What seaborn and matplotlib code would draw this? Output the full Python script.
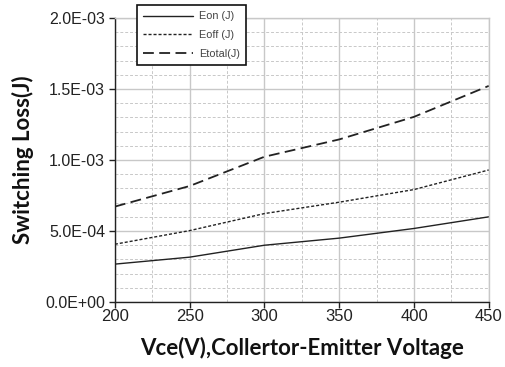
import matplotlib
matplotlib.use("Agg")
import matplotlib.pyplot as plt
import seaborn as sns
import pandas as pd
from matplotlib.ticker import MultipleLocator, FuncFormatter

vce = [200, 250, 300, 350, 400, 450]
eon = [0.267e-3, 0.316e-3, 0.400e-3, 0.450e-3, 0.518e-3, 0.600e-3]
eoff = [0.407e-3, 0.503e-3, 0.623e-3, 0.703e-3, 0.792e-3, 0.930e-3]
etotal = [0.672e-3, 0.817e-3, 1.023e-3, 1.145e-3, 1.304e-3, 1.522e-3]
series_names = ["Eon (J)", "Eoff (J)", "Etotal(J)"]

sns.set_style("white")
plt.rcParams['font.family'] = ['Liberation Sans', 'DejaVu Sans']

fig = plt.figure(figsize=(5.06, 3.67), dpi=100)
ax = fig.add_axes([0.227, 0.177, 0.739, 0.774])

styles = [dict(linestyle='-', linewidth=1.0),
          dict(linestyle=(0, (2.2, 1.4)), linewidth=1.0),
          dict(linestyle=(0, (6, 3)), linewidth=1.3)]
for name, vals, st in zip(series_names, [eon, eoff, etotal], styles):
    df = pd.DataFrame({"Vce": vce, "E": vals})
    sns.lineplot(data=df, x="Vce", y="E", ax=ax, color='#222222', label=name, **st)


def sci(v, p):
    if v == 0:
        return "0.0E+00"
    e = int(f"{v:e}".split('e')[1])
    return "%.1fE%+03d" % (v / 10**e, e)


ax.set_xlim(200, 450)
ax.set_ylim(0, 2.0e-3)
ax.xaxis.set_major_locator(MultipleLocator(50))
ax.xaxis.set_minor_locator(MultipleLocator(25))
ax.yaxis.set_major_locator(MultipleLocator(5e-4))
ax.yaxis.set_minor_locator(MultipleLocator(1e-4))
ax.yaxis.set_major_formatter(FuncFormatter(sci))

ax.grid(which='major', color='#c8c8c8', linewidth=1.0, linestyle='-')
ax.grid(which='minor', color='#c8c8c8', linewidth=0.7, linestyle=(0, (3, 2)))
ax.set_axisbelow(True)

for s in ['top', 'right']:
    ax.spines[s].set_color('#c8c8c8')
    ax.spines[s].set_linewidth(1.0)
for s in ['left', 'bottom']:
    ax.spines[s].set_color('#222222')
    ax.spines[s].set_linewidth(1.0)

ax.tick_params(axis='both', which='major', direction='out', length=4, width=1,
               color='#222222', labelcolor='#222222', bottom=True, left=True)
ax.tick_params(axis='y', labelsize=11.5, pad=3)
ax.tick_params(axis='x', labelsize=12, pad=1)
ax.tick_params(axis='both', which='minor', length=0)

lab_font = dict(family=['Lato', 'DejaVu Sans'], weight='bold', size=16, color='#111111')
ax.set_xlabel("Vce(V),Collertor-Emitter Voltage", labelpad=9, **lab_font)
ax.set_ylabel("Switching Loss(J)", labelpad=8, **lab_font)

leg = ax.legend(loc='upper left', bbox_to_anchor=(0.059, 1.046), frameon=True, fancybox=False,
                edgecolor='#111111', framealpha=1, fontsize=7.8, handlelength=4.6,
                labelspacing=0.8, borderpad=0.6, handletextpad=0.5, borderaxespad=0)
leg.get_frame().set_linewidth(1.2)
for t in leg.get_texts():
    t.set_color('#444444')

fig.savefig("out.png", dpi=100)
